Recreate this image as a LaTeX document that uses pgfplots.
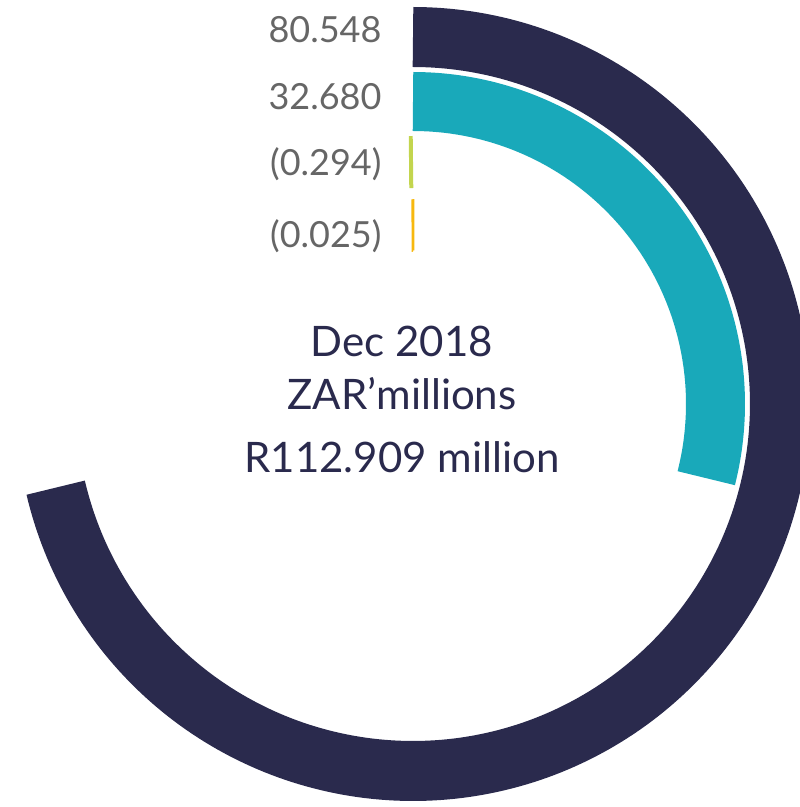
\documentclass[border=0pt]{standalone}
\usepackage{pgfplots}
\pgfplotsset{compat=1.18}
\usepackage{fontspec}
\setmainfont{Lato}
\definecolor{cdark}{HTML}{2A2A4D}
\definecolor{cteal}{HTML}{19A9BA}
\definecolor{cgreen}{HTML}{C3D54E}
\definecolor{cyellow}{HTML}{F7B80E}
\definecolor{cgray}{HTML}{666666}
\def\total{112.909}
\begin{document}
\begin{tikzpicture}
\begin{axis}[
  x=1pt, y=1pt,
  xmin=-413, xmax=387, ymin=-403, ymax=404,
  hide axis, clip=true,
]
\coordinate (bl) at (axis cs:-413,-403);
\coordinate (tr) at (axis cs:387,404);
% value (ZAR millions), drawn clockwise from 12 o'clock; full circle = total
\addplot[line width=60pt, color=cdark, domain=0:80.548, samples=240]
  ({367*sin(360*x/\total)}, {367*cos(360*x/\total)});
\addplot[line width=59pt, color=cteal, domain=0:32.680, samples=120]
  ({302.5*sin(360*x/\total)}, {302.5*cos(360*x/\total)});
\addplot[line width=52pt, color=cgreen, domain=-0.294:0, samples=4]
  ({242*sin(360*x/\total)}, {242*cos(360*x/\total)});
% tiny slice (-0.025): sector corners as (value, radius)
\addplot[draw=cyellow, fill=cyellow, line width=2.5pt, line join=miter]
  table[x expr={\thisrow{r}*sin(360*\thisrow{v}/\total)}, y expr={\thisrow{r}*cos(360*\thisrow{v}/\total)}] {
v r
0 153.5
0 203.5
-0.025 203.5
-0.025 153.5
0 153.5
};
% value labels
\node[anchor=base east, text=cgray, font=\fontsize{36}{36}\selectfont] at (axis cs:-28,361) {80.548};
\node[anchor=base east, text=cgray, font=\fontsize{36}{36}\selectfont] at (axis cs:-28,294) {32.680};
\node[anchor=base east, text=cgray, font=\fontsize{36}{36}\selectfont] at (axis cs:-28,228) {(0.294)};
\node[anchor=base east, text=cgray, font=\fontsize{36}{36}\selectfont] at (axis cs:-28,156) {(0.025)};
% centre text
\node[anchor=base, text=cdark, font=\fontsize{42}{42}\selectfont] at (axis cs:-11,47) {Dec 2018};
\node[anchor=base, text=cdark, font=\fontsize{42}{42}\selectfont] at (axis cs:-11,-6) {ZAR’millions};
\node[anchor=base, text=cdark, font=\fontsize{42}{42}\selectfont] at (axis cs:-11,-69) {R112.909 million};
\end{axis}
\pgfresetboundingbox
\path (bl) rectangle (tr);
\end{tikzpicture}
\end{document}
